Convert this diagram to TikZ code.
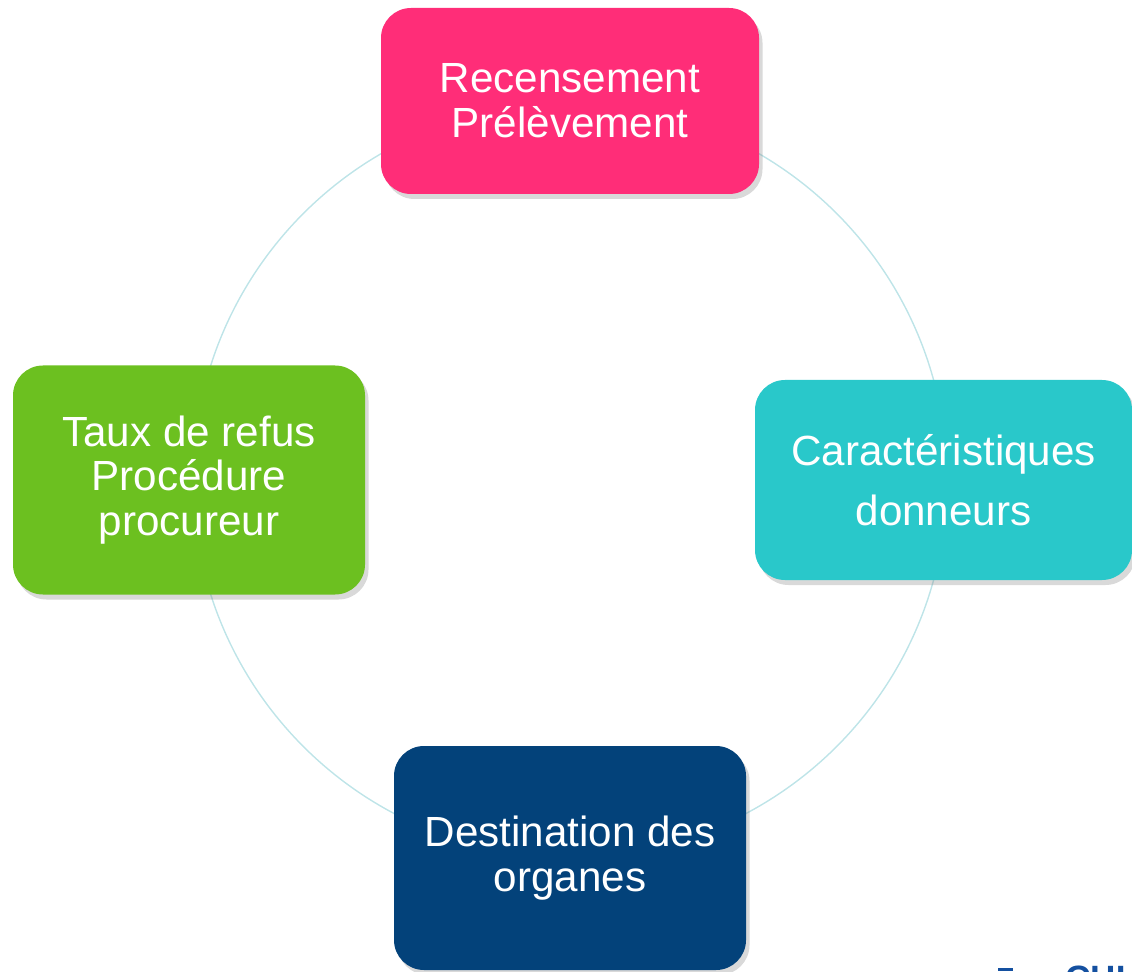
\documentclass[tikz,border=0pt]{standalone}
\usepackage{fontspec}
\setmainfont{Liberation Sans}
\usetikzlibrary{shadows}
\definecolor{rose}{RGB}{255,45,120}
\definecolor{turquoise}{RGB}{41,200,202}
\definecolor{vert}{RGB}{108,192,32}
\definecolor{marine}{RGB}{3,66,122}
\definecolor{cerclebleu}{RGB}{190,228,232}
\definecolor{logobleu}{RGB}{20,80,160}
\begin{document}
\begin{tikzpicture}[
    etape/.style={rectangle, rounded corners=0.6cm, text=white, align=center,
      inner sep=0pt, font=\fontsize{24}{25.5}\selectfont,
      drop shadow={shadow xshift=0.07cm, shadow yshift=-0.1cm, opacity=0.3}},
    cercle/.style={draw=cerclebleu, line width=0.8pt},
  ]
  \useasboundingbox (0,0) rectangle (22.64,19.42);
  \clip (0,0) rectangle (22.64,19.42);
  \draw[cercle] (11.4,9.82) circle (7.54);
  \begin{scope}[shift={(11.4,9.82)}]
    \draw
      (90:7.58) node[etape, fill=rose, minimum width=7.56cm, minimum height=3.72cm]
        (recensement) {Recensement\\Prélèvement}
      (0:7.47) node[etape, fill=turquoise, minimum width=7.54cm, minimum height=4cm,
        font=\fontsize{24}{34}\selectfont, text depth=-0.3cm]
        (donneurs) {Caractéristiques\\donneurs}
      (270:7.56) node[etape, fill=marine, minimum width=7.04cm, minimum height=4.48cm]
        (organes) {Destination des\\organes}
      (180:7.62) node[etape, fill=vert, minimum width=7.04cm, minimum height=4.58cm]
        (refus) {Taux de refus\\Procédure\\procureur};
  \end{scope}
  \fill[logobleu] (19.96,0) rectangle (20.26,0.06);
  \node[anchor=north west, inner sep=0pt, text=logobleu,
    font=\fontsize{20}{20}\selectfont\bfseries] (logo) at (21.3,0.1) {CHU};
\end{tikzpicture}
\end{document}
